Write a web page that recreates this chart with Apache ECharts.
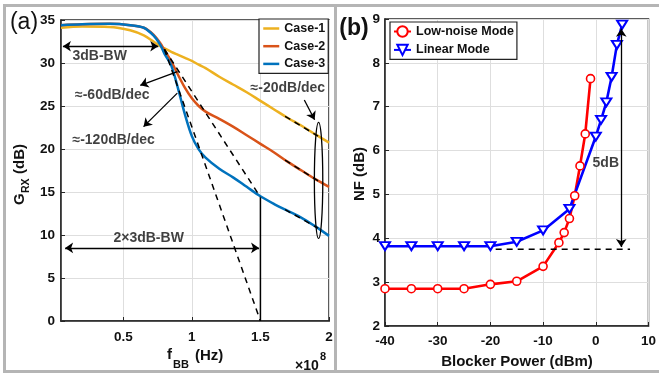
<!DOCTYPE html>
<html>
<head>
<meta charset="utf-8">
<script src="https://cdn.jsdelivr.net/npm/echarts@6/dist/echarts.min.js"></script>
<style>
html, body { margin: 0; padding: 0; background: #fff; }
#main { width: 659px; height: 375px; }
</style>
</head>
<body>
<div id="main"></div>
<script>
// ---- panel (a): receiver gain vs baseband frequency (x in units of 1e8 Hz)
var freq  = [0.046, 0.2, 0.4, 0.55, 0.65, 0.72, 0.77, 0.8, 0.85, 0.9, 0.95, 1.0, 1.05, 1.1, 1.2, 1.3, 1.4, 1.5, 1.6, 1.7, 1.8, 1.9, 2.0];
var case1 = [34.1, 34.25, 34.2, 33.8, 33.2, 32.5, 31.95, 31.7, 31.3, 30.95, 30.6, 30.25, 29.8, 29.4, 28.4, 27.5, 26.6, 25.6, 24.6, 23.6, 22.7, 21.7, 20.75];
var case2 = [34.4, 34.5, 34.55, 34.4, 34.1, 33.3, 32.3, 31.5, 30.2, 28.6, 27.1, 25.9, 25.0, 24.35, 23.5, 22.6, 21.6, 20.6, 19.6, 18.5, 17.5, 16.5, 15.6];
var case3 = [34.4, 34.5, 34.55, 34.4, 34.1, 33.2, 32.1, 31.1, 29.7, 27.0, 24.0, 21.5, 19.95, 19.0, 17.7, 16.7, 15.6, 14.5, 13.6, 12.8, 12.0, 11.0, 9.9];

// annotation geometry (data coords)
var fit60  = [[0.8, 31.6], [1.5, 14.4]];
var fit120 = [[0.8, 31.6], [1.5, 0]];
var fit20  = [
  [[1.68, 23.8], [1.92, 21.5]],
  [[1.68, 18.7], [1.92, 16.3]],
  [[1.68, 12.95], [1.92, 10.8]]
];
var bwLine = [[1.5, 0], [1.5, 14.4]];
var bwArrow    = [[0.06, 31.95], [0.755, 31.95]];
var bw2Arrow   = [[0.076, 8.5], [1.49, 8.5]];
var arrow60    = [[0.895, 29.0], [0.624, 27.4]];
var arrow120   = [[0.894, 26.5], [0.648, 22.6]];
var arrow20    = [[1.82, 25.7], [1.895, 23.4]];
var notesA = [
  { name: '3dB-BW', value: [0.328, 30.8] },
  { name: '≈-60dB/dec', value: [0.42, 26.3] },
  { name: '≈-120dB/dec', value: [0.43, 21.0] },
  { name: '≈-20dB/dec', value: [1.70, 27.1] },
  { name: '2×3dB-BW', value: [0.685, 9.6] }
];
var ellipseX = 1.924, ellipseLow = 9.6, ellipseHigh = 23.1;

// ---- panel (b): NF vs blocker power
var blockerLN  = [-40, -35, -30, -25, -20, -15, -10, -7, -6, -5, -4, -3, -2, -1];
var nfLN       = [2.85, 2.85, 2.85, 2.85, 2.95, 3.02, 3.36, 3.90, 4.13, 4.45, 4.97, 5.65, 6.38, 7.64];
var blockerLin = [-40, -35, -30, -25, -20, -15, -10, -5, 0, 1, 2, 3, 4, 5];
var nfLin      = [3.82, 3.82, 3.82, 3.82, 3.82, 3.92, 4.18, 4.67, 6.32, 6.70, 7.10, 7.68, 8.41, 8.87];
var floorLine  = [[-19, 3.75], [6.5, 3.75]];
var arrow5dB   = [[4.83, 3.8], [4.83, 8.78]];
var notesB = [{ name: '5dB', value: [1.9, 5.72] }];

var FONT = "'Liberation Sans', Arial, sans-serif";
var AXC = '#262626';
var GRIDC = '#dedede';

function zip(xs, ys) {
  return xs.map(function (x, i) { return [x, ys[i]]; });
}

var chart = echarts.init(document.getElementById('main'));

function valueAxis(grid, min, max, interval, extra) {
  var ax = {
    type: 'value', gridIndex: grid, min: min, max: max,
    axisLine: { show: true, onZero: false, lineStyle: { color: AXC, width: 1.5 } },
    axisTick: { show: true, inside: true, length: 4, lineStyle: { color: AXC } },
    splitLine: { show: true, lineStyle: { color: GRIDC, width: 1 } },
    axisLabel: { color: '#111', fontFamily: FONT, fontWeight: 'bold', fontSize: 13.5 }
  };
  if (interval) ax.interval = interval;
  for (var k in extra) ax[k] = extra[k];
  return ax;
}

function noteSeries(xi, yi, data) {
  return {
    type: 'scatter', xAxisIndex: xi, yAxisIndex: yi, symbolSize: 0, silent: true, z: 10,
    data: data,
    label: { show: true, position: 'inside', formatter: '{b}', color: '#111',
      fontFamily: FONT, fontWeight: 'bold', fontSize: 14 }
  };
}

function arrowLine(data, both) {
  return {
    silent: true, animation: false,
    lineStyle: { color: '#000', width: 1.3, type: 'solid' },
    symbol: both ? ['arrow', 'arrow'] : ['none', 'arrow'],
    symbolSize: 8,
    label: { show: false },
    data: [[{ coord: data[0] }, { coord: data[1] }]]
  };
}

function segSeries(xi, yi, pts, dashed) {
  return {
    type: 'line', xAxisIndex: xi, yAxisIndex: yi, data: pts, symbol: 'none', silent: true, z: 5,
    lineStyle: { color: '#000', width: 1.5, type: dashed ? [6, 5] : 'solid' }
  };
}

function arrowSeries(xi, yi, pts, both) {
  return {
    type: 'line', xAxisIndex: xi, yAxisIndex: yi, data: [], symbol: 'none', silent: true,
    markLine: arrowLine(pts, both)
  };
}

var series = [
  { name: 'Case-1', type: 'line', xAxisIndex: 0, yAxisIndex: 0, data: zip(freq, case1), symbol: 'none', smooth: 0.35,
    color: '#EDB120', lineStyle: { width: 2.5, color: '#EDB120' } },
  { name: 'Case-2', type: 'line', xAxisIndex: 0, yAxisIndex: 0, data: zip(freq, case2), symbol: 'none', smooth: 0.35,
    color: '#D95319', lineStyle: { width: 2.5, color: '#D95319' } },
  { name: 'Case-3', type: 'line', xAxisIndex: 0, yAxisIndex: 0, data: zip(freq, case3), symbol: 'none', smooth: 0.35,
    color: '#0072BD', lineStyle: { width: 2.5, color: '#0072BD' } },
  segSeries(0, 0, fit60, true),
  segSeries(0, 0, fit120, true),
  segSeries(0, 0, fit20[0], true),
  segSeries(0, 0, fit20[1], true),
  segSeries(0, 0, fit20[2], true),
  segSeries(0, 0, bwLine, false),
  arrowSeries(0, 0, bwArrow, true),
  arrowSeries(0, 0, bw2Arrow, true),
  arrowSeries(0, 0, arrow60, false),
  arrowSeries(0, 0, arrow120, false),
  arrowSeries(0, 0, arrow20, false),
  noteSeries(0, 0, notesA),

  { name: 'Low-noise Mode', type: 'line', xAxisIndex: 1, yAxisIndex: 1, data: zip(blockerLN, nfLN),
    symbol: 'circle', symbolSize: 8, color: '#FF0000',
    itemStyle: { color: '#fff', borderColor: '#FF0000', borderWidth: 1.6 },
    lineStyle: { width: 2.6, color: '#FF0000' } },
  { name: 'Linear Mode', type: 'line', xAxisIndex: 1, yAxisIndex: 1, data: zip(blockerLin, nfLin),
    symbol: 'triangle', symbolRotate: 180, symbolSize: [10, 8], color: '#0000FF',
    itemStyle: { color: '#fff', borderColor: '#0000FF', borderWidth: 2 },
    lineStyle: { width: 2.6, color: '#0000FF' } },
  segSeries(1, 1, floorLine, true),
  arrowSeries(1, 1, arrow5dB, true),
  noteSeries(1, 1, notesB)
];

var legendText = { fontFamily: FONT, fontWeight: 'bold', fontSize: 12.5, color: '#111' };

chart.setOption({
  animation: false,
  backgroundColor: '#fff',
  grid: [
    { left: 61, top: 20, width: 268, height: 301, show: true, borderColor: AXC, borderWidth: 1.5, backgroundColor: '#fff' },
    { left: 385, top: 19, width: 264, height: 307, show: true, borderColor: AXC, borderWidth: 1.5, backgroundColor: '#fff' }
  ],
  xAxis: [
    valueAxis(0, 0.046, 2, null, { splitNumber: 4,
      axisLabel: { color: '#111', fontFamily: FONT, fontWeight: 'bold', fontSize: 13.5, margin: 9, showMinLabel: false } }),
    valueAxis(1, -40, 10, 10, {
      axisLabel: { color: '#111', fontFamily: FONT, fontWeight: 'bold', fontSize: 13.5, margin: 8 } })
  ],
  yAxis: [
    valueAxis(0, 0, 35, 5, {
      axisLabel: { color: '#111', fontFamily: FONT, fontWeight: 'bold', fontSize: 13.5, margin: 6 } }),
    valueAxis(1, 2, 9, 1, {
      axisLabel: { color: '#111', fontFamily: FONT, fontWeight: 'bold', fontSize: 13.5, margin: 5 } })
  ],
  legend: [
    { data: ['Case-1', 'Case-2', 'Case-3'], orient: 'vertical', left: 259, top: 19,
      padding: [3, 3, 3, 3], itemWidth: 16, itemHeight: 13, itemGap: 4.7,
      itemStyle: { opacity: 0 }, lineStyle: { width: 2.5 },
      backgroundColor: '#fff', borderColor: '#222', borderWidth: 1.2, borderRadius: 0,
      textStyle: legendText, selectedMode: false },
    { data: ['Low-noise Mode', 'Linear Mode'], orient: 'vertical', left: 390, top: 22,
      padding: [3, 3, 3, 3], itemWidth: 17, itemHeight: 13, itemGap: 5.4,
      backgroundColor: '#fff', borderColor: '#222', borderWidth: 1.2, borderRadius: 0,
      textStyle: legendText, selectedMode: false }
  ],
  series: series
});

// ellipse around the slope fits, placed through the axes
var pTop = chart.convertToPixel({ gridIndex: 0 }, [ellipseX, ellipseHigh]);
var pBot = chart.convertToPixel({ gridIndex: 0 }, [ellipseX, ellipseLow]);

function txt(x, y, s, size, align, weight) {
  return { type: 'text', x: x, y: y, z: 50, style: {
    text: s, fontFamily: FONT, fontWeight: weight || 'bold', fontSize: size, fill: '#111',
    textAlign: align || 'center', textVerticalAlign: 'middle' } };
}

var frameC = '#b5b5b5';
chart.setOption({
  graphic: [
    { type: 'rect', shape: { x: 3, y: 4, width: 656, height: 3 }, style: { fill: frameC }, z: 60 },
    { type: 'rect', shape: { x: 3, y: 4, width: 3, height: 369 }, style: { fill: frameC }, z: 60 },
    { type: 'rect', shape: { x: 334, y: 4, width: 3, height: 369 }, style: { fill: frameC }, z: 60 },
    { type: 'rect', shape: { x: 3, y: 370, width: 656, height: 3 }, style: { fill: frameC }, z: 60 },
    { type: 'ellipse', shape: { cx: pTop[0], cy: (pTop[1] + pBot[1]) / 2, rx: 4.2, ry: (pBot[1] - pTop[1]) / 2 },
      style: { fill: 'none', stroke: '#000', lineWidth: 1.3 }, z: 40 },
    txt(24, 23, '(a)', 23, 'center', 'normal'),
    txt(354, 29, '(b)', 23, 'center', 'bold'),
    txt(167, 355, 'f', 15, 'left'),
    txt(173, 365, 'BB', 11, 'left'),
    txt(195, 355.5, '(Hz)', 15, 'left'),
    txt(295, 366, '×10', 14, 'left'),
    txt(320, 357, '8', 11, 'left'),
    txt(517, 362, 'Blocker Power (dBm)', 15, 'center'),
    { type: 'group', x: 20, y: 205, rotation: Math.PI / 2, children: [
      txt(0, 0, 'G', 15, 'left'),
      txt(12, 6, 'RX', 10.5, 'left'),
      txt(31, 0, '(dB)', 15, 'left')
    ] },
    { type: 'group', x: 360, y: 174, rotation: Math.PI / 2, children: [
      txt(0, 0, 'NF (dB)', 15, 'center')
    ] }
  ]
});
</script>
</body>
</html>
